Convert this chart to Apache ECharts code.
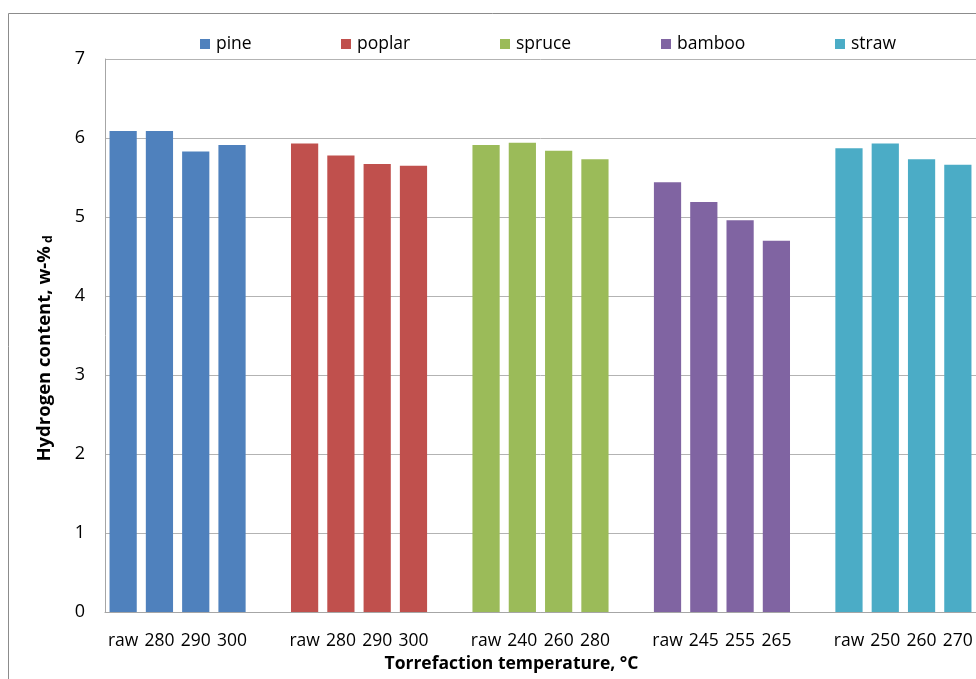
<!DOCTYPE html>
<html>
<head>
<meta charset="utf-8">
<script src="https://cdn.jsdelivr.net/npm/echarts@6/dist/echarts.min.js"></script>
<style>
  html, body { margin: 0; padding: 0; background: #fff; }
  #chart { width: 976px; height: 679px; }
</style>
</head>
<body>
<div id="chart"></div>
<script>
// Tick labels along the temperature axis (blank slots separate the feedstocks)
const categories = [
  'raw', '280', '290', '300', '',
  'raw', '280', '290', '300', '',
  'raw', '240', '260', '280', '',
  'raw', '245', '255', '265', '',
  'raw', '250', '260', '270'
];

// Hydrogen content (w-% dry) per feedstock: raw, then increasing torrefaction temperature
const pine   = [6.09, 6.09, 5.83, 5.91];
const poplar = [5.93, 5.78, 5.67, 5.65];
const spruce = [5.91, 5.94, 5.84, 5.73];
const bamboo = [5.44, 5.19, 4.96, 4.70];
const straw  = [5.87, 5.93, 5.73, 5.66];

const seriesNames = ['pine', 'poplar', 'spruce', 'bamboo', 'straw'];
const seriesValues = [pine, poplar, spruce, bamboo, straw];
const seriesColors = ['#4F81BD', '#C0504D', '#9BBB59', '#8064A2', '#4BACC6'];
const yTicks = [0, 1, 2, 3, 4, 5, 6, 7];

const FONT = '"Open Sans", "Noto Sans", sans-serif';
const GROUP = 5; // four bars plus one empty slot per feedstock

// Place each feedstock's values in its own block of categories
const series = seriesNames.map((name, i) => {
  const data = categories.map(() => null);
  seriesValues[i].forEach((v, j) => { data[i * GROUP + j] = v; });
  return {
    name: name,
    type: 'bar',
    stack: 'all',
    data: data,
    barWidth: '75%',
    itemStyle: { color: seriesColors[i] },
    emphasis: { disabled: true }
  };
});

// One legend per entry so every item sits in an evenly spaced slot
const legendLefts = [195, 336, 495, 656, 830];
const legends = seriesNames.map((name, i) => ({
  data: [name],
  left: legendLefts[i],
  top: 30,
  itemWidth: 10,
  itemHeight: 10,
  itemGap: 0,
  icon: 'rect',
  selectedMode: false,
  textStyle: { fontFamily: FONT, fontSize: 17.5, color: '#000', padding: [0, 0, 0, 1] }
}));

const chart = echarts.init(document.getElementById('chart'), null, { renderer: 'canvas' });
chart.setOption({
  animation: false,
  backgroundColor: '#fff',
  graphic: [{
    type: 'rect',
    shape: { x: 8.5, y: 13.5, width: 1100, height: 800 },
    style: { fill: 'none', stroke: '#8c8c8c', lineWidth: 1 },
    silent: true,
    z: -1
  }],
  legend: legends,
  grid: { left: 105, top: 59, right: 0, bottom: 67, containLabel: false },
  xAxis: {
    type: 'category',
    data: categories,
    boundaryGap: true,
    axisLine: { lineStyle: { color: '#a6a6a6', width: 1 } },
    axisTick: { show: false },
    axisLabel: { interval: 0, color: '#000', fontFamily: FONT, fontSize: 17.5, margin: 20 },
    name: 'Torrefaction temperature, °C',
    nameLocation: 'middle',
    nameGap: 41,
    nameTextStyle: {
      fontFamily: FONT, fontSize: 17.5, fontWeight: 'bold', color: '#000',
      padding: [0, 58, 0, 0]
    }
  },
  yAxis: {
    type: 'value',
    min: yTicks[0],
    max: yTicks[yTicks.length - 1],
    interval: 1,
    axisLine: { show: true, lineStyle: { color: '#a6a6a6', width: 1 } },
    axisTick: { show: false },
    splitLine: { lineStyle: { color: '#b3b3b3', width: 1 } },
    axisLabel: { color: '#000', fontFamily: FONT, fontSize: 18, margin: 20 },
    name: '{m|Hydrogen content, w-%}{s| d}',
    nameLocation: 'middle',
    nameGap: 50,
    nameRotate: 90,
    nameTextStyle: {
      padding: [0, 26, 0, 0],
      rich: {
        m: { fontFamily: FONT, fontSize: 18.5, fontWeight: 'bold', color: '#000' },
        s: { fontFamily: FONT, fontSize: 12, fontWeight: 'bold', color: '#000', verticalAlign: 'bottom', padding: [9, 0, 0, 0] }
      }
    }
  },
  series: series
});
</script>
</body>
</html>
